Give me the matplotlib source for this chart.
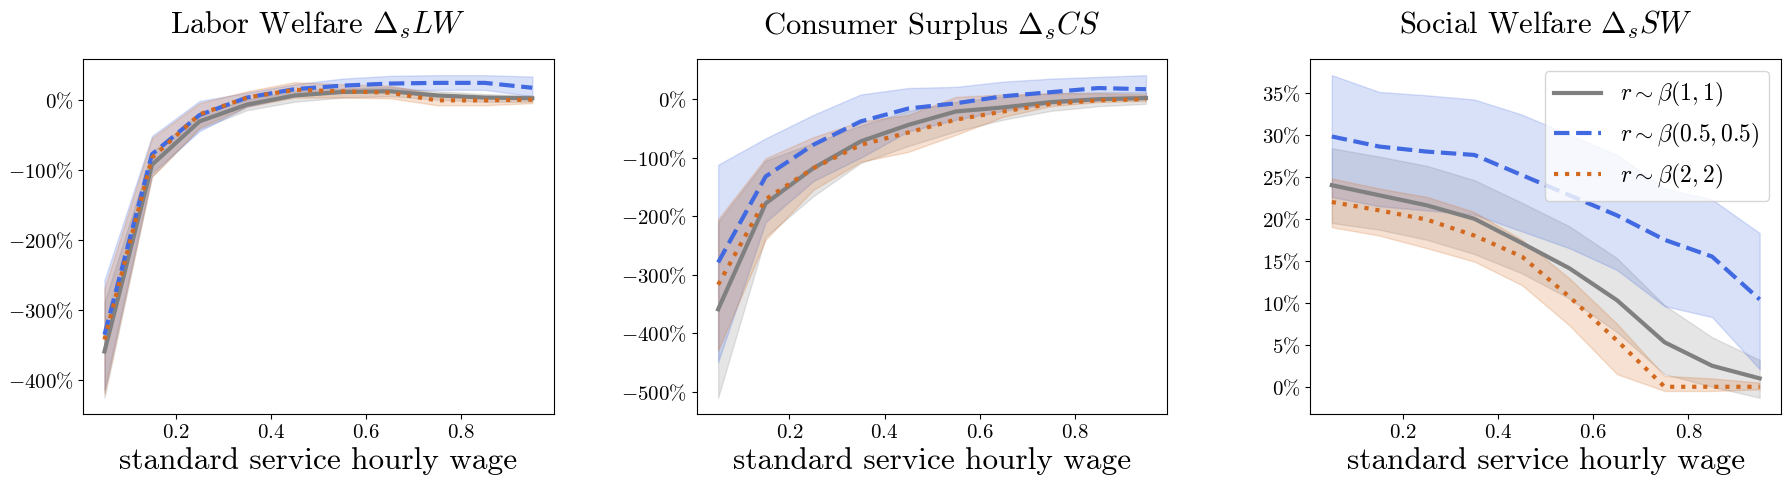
import numpy as np
import matplotlib
matplotlib.use("Agg")
import matplotlib.pyplot as plt
from matplotlib.ticker import FuncFormatter

plt.rcParams['font.family'] = 'serif'
plt.rcParams['font.serif'] = ['cmr10']
plt.rcParams['mathtext.fontset'] = 'cm'
plt.rcParams['axes.unicode_minus'] = False
plt.rcParams['axes.formatter.use_mathtext'] = True

wage = [0.05, 0.15, 0.25, 0.35, 0.45, 0.55, 0.65, 0.75, 0.85, 0.95]

series_labels = [r'$r\sim\beta(1,1)$', r'$r\sim\beta(0.5,0.5)$', r'$r\sim\beta(2,2)$']
series_colors = ['grey', 'royalblue', 'chocolate']
series_styles = ['-', '--', ':']

titles = [r'Labor Welfare $\Delta_s LW$', r'Consumer Surplus $\Delta_s CS$', r'Social Welfare $\Delta_s SW$']
xlabel = 'standard service hourly wage'

# ---- Labor welfare (%) ----
lw_mean_11 = [-360, -93, -31, -7, 6, 11, 12, 6, 3, 2]
lw_low_11 = [-426, -110, -42, -15, -3, 3, 5, 0, -3, -3]
lw_high_11 = [-290, -75, -20, 0, 12, 16, 18, 12, 8, 6]
lw_mean_05 = [-336, -78, -22, 3, 15, 20, 23, 24, 24, 17]
lw_low_05 = [-415, -105, -45, -10, 5, 10, 13, 14, 14, 5]
lw_high_05 = [-258, -52, -2, 10, 22, 30, 34, 35, 35, 33]
lw_mean_22 = [-343, -83, -21, 3, 14, 12, 10, -1, -1, 0]
lw_low_22 = [-420, -110, -40, -10, 3, 3, 2, -8, -8, -5]
lw_high_22 = [-270, -55, -5, 12, 25, 22, 20, 8, 5, 5]

# ---- Consumer surplus (%) ----
cs_mean_11 = [-359, -178, -118, -72, -44, -21, -14, -5, 0, 2]
cs_low_11 = [-510, -235, -166, -109, -80, -55, -35, -20, -12, -8]
cs_high_11 = [-210, -105, -75, -45, -20, -5, 5, 10, 12, 12]
cs_mean_05 = [-279, -132, -78, -38, -16, -7, 5, 12, 19, 17]
cs_low_05 = [-449, -210, -140, -100, -55, -35, -20, -8, -2, 0]
cs_high_05 = [-112, -67, -27, 8, 19, 21, 30, 35, 38, 41]
cs_mean_22 = [-317, -171, -118, -78, -57, -35, -21, -8, -2, 0]
cs_low_22 = [-429, -240, -155, -107, -90, -61, -30, -12, -5, -3]
cs_high_22 = [-205, -101, -65, -38, -27, 4, 8, 10, 10, 8]

# ---- Social welfare (%) ----
sw_mean_11 = [24.0, 22.8, 21.6, 20.0, 17.1, 14.1, 10.3, 5.3, 2.5, 1.0]
sw_low_11 = [19.5, 18.7, 17.5, 15.8, 13.5, 10.5, 6.5, 1.5, 0.0, -1.3]
sw_high_11 = [28.4, 27.4, 26.3, 24.6, 21.9, 19.1, 15.3, 9.7, 5.9, 3.2]
sw_mean_05 = [29.8, 28.6, 28.0, 27.6, 25.2, 22.8, 20.4, 17.5, 15.5, 10.4]
sw_low_05 = [22.6, 21.5, 21.0, 20.5, 18.5, 16.5, 13.9, 9.6, 8.3, 2.1]
sw_high_05 = [37.1, 35.1, 34.7, 34.2, 32.4, 30.0, 27.6, 23.6, 22.3, 18.3]
sw_mean_22 = [22.0, 21.0, 19.9, 18.0, 15.5, 10.7, 5.5, 0.0, 0.0, 0.0]
sw_low_22 = [19.0, 18.0, 16.5, 14.9, 12.1, 7.3, 1.5, -0.5, -0.5, -0.3]
sw_high_22 = [24.8, 23.6, 22.6, 20.8, 17.5, 12.9, 7.5, 1.3, 1.0, 0.5]

panels = [
    [(lw_mean_11, lw_low_11, lw_high_11), (lw_mean_05, lw_low_05, lw_high_05), (lw_mean_22, lw_low_22, lw_high_22)],
    [(cs_mean_11, cs_low_11, cs_high_11), (cs_mean_05, cs_low_05, cs_high_05), (cs_mean_22, cs_low_22, cs_high_22)],
    [(sw_mean_11, sw_low_11, sw_high_11), (sw_mean_05, sw_low_05, sw_high_05), (sw_mean_22, sw_low_22, sw_high_22)],
]

def pct_fmt(v, pos):
    return r'$%d\%%$' % int(round(v))

def x_fmt(v, pos):
    return r'$%.1f$' % v

fig, axes = plt.subplots(1, 3, figsize=(17.9, 4.88), dpi=100)
fig.subplots_adjust(left=0.0464, right=0.995, bottom=0.152, top=0.879, wspace=0.304)

for ax, data, title in zip(axes, panels, titles):
    for (m, lo, hi), lab, col, ls in zip(data, series_labels, series_colors, series_styles):
        ax.plot(wage, m, color=col, linestyle=ls, linewidth=3, label=lab)
        ax.fill_between(wage, lo, hi, color=col, alpha=0.2)
    ax.set_title(title, fontsize=22, pad=18)
    ax.set_xlabel(xlabel, fontsize=22.5)
    ax.set_xticks([0.2, 0.4, 0.6, 0.8])
    ax.xaxis.set_major_formatter(FuncFormatter(x_fmt))
    ax.yaxis.set_major_formatter(FuncFormatter(pct_fmt))
    ax.tick_params(labelsize=15)

axes[0].set_yticks([-400, -300, -200, -100, 0])
axes[1].set_yticks([-500, -400, -300, -200, -100, 0])
axes[2].set_yticks([0, 5, 10, 15, 20, 25, 30, 35])

axes[2].legend(loc='upper right', fontsize=17)

fig.savefig('out.png', dpi=100)
